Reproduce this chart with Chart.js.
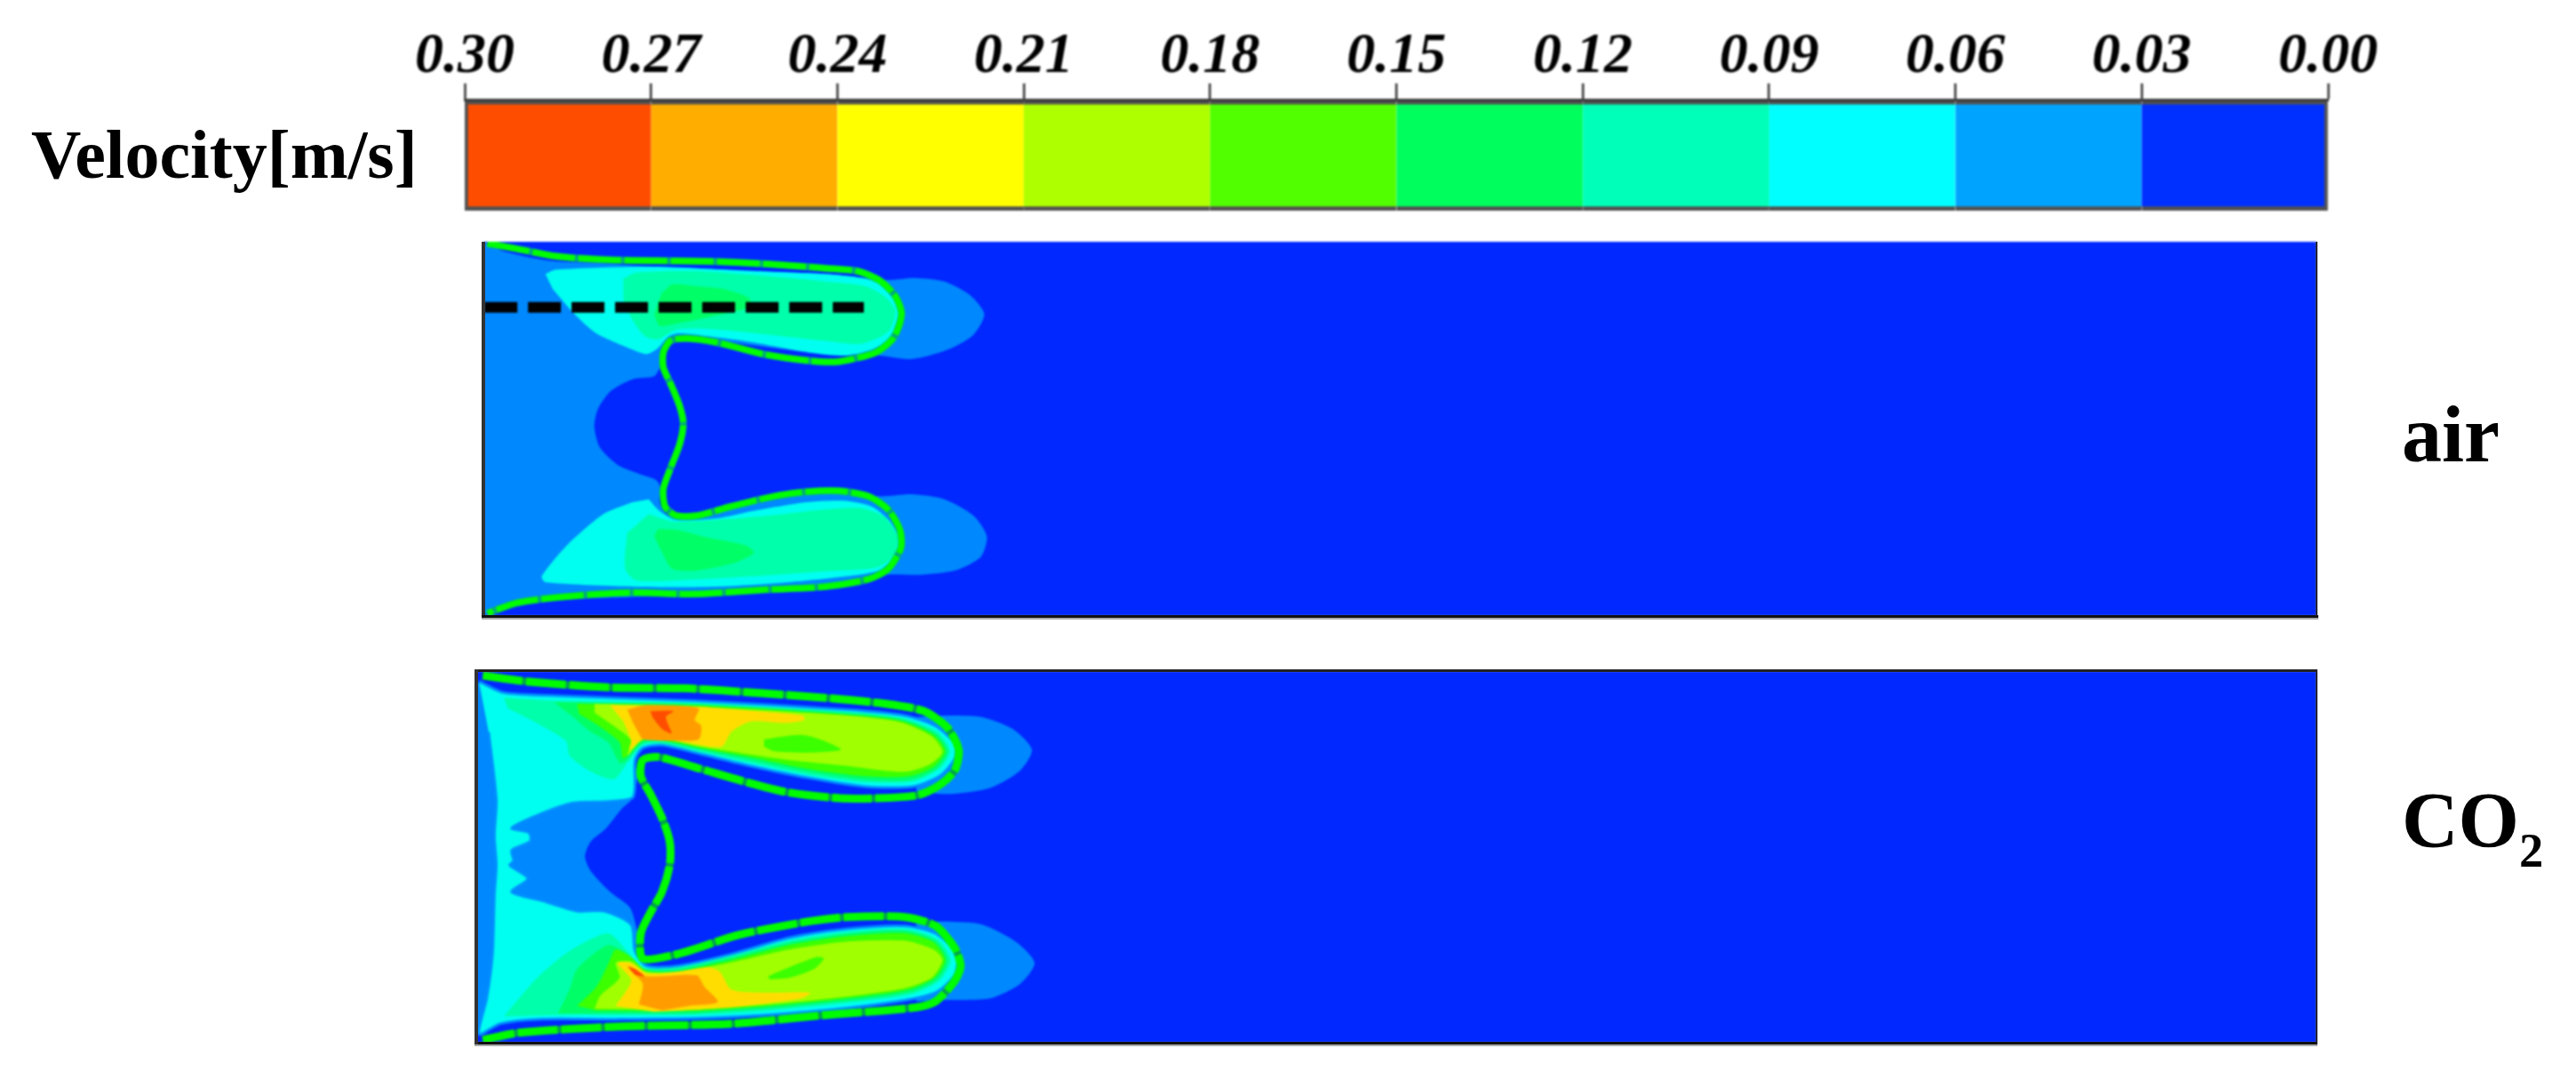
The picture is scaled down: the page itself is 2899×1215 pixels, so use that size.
<!DOCTYPE html>
<html>
<head>
<meta charset="utf-8">
<script src="https://cdn.jsdelivr.net/npm/chart.js@4"></script>
<style>
html, body { margin: 0; padding: 0; background: #fff; }
body { width: 2899px; height: 1215px; position: relative; overflow: hidden; }
canvas { position: absolute; }
#barChart { left: 400px; top: 0; filter: blur(0.8px); }
#airChart { left: 544px; top: 272px; background: #0028ff; filter: blur(1px); }
#co2Chart { left: 536px; top: 755px; background: #0028ff; filter: blur(1px); }
.edge { position: absolute; }
.lbl { position: absolute; font-family: "Liberation Serif", serif; font-weight: bold; color: #000; line-height: 1; white-space: nowrap; }
.lbl sub { font-size: 62%; vertical-align: -0.42em; line-height: 0; }
</style>
</head>
<body>
<canvas id="barChart" width="2350" height="260"></canvas>
<canvas id="airChart" width="2063" height="421"></canvas>
<canvas id="co2Chart" width="2071" height="418"></canvas>

<div class="edge" style="left:542px;top:272px;width:4px;height:423px;background:#333"></div>
<div class="edge" style="left:542px;top:692px;width:2067px;height:3px;background:#111"></div>
<div class="edge" style="left:542px;top:695px;width:2067px;height:2px;background:#aaa"></div>
<div class="edge" style="left:2606px;top:272px;width:2px;height:421px;background:#223"></div>
<div class="edge" style="left:534px;top:753px;width:2074px;height:3px;background:#222"></div>
<div class="edge" style="left:534px;top:1172px;width:2074px;height:3px;background:#111"></div>
<div class="edge" style="left:534px;top:1175px;width:2074px;height:2px;background:#aaa"></div>
<div class="edge" style="left:534px;top:753px;width:4px;height:422px;background:#333"></div>
<div class="edge" style="left:2606px;top:753px;width:2px;height:420px;background:#223"></div>

<div class="lbl" style="left:35px;top:135px;font-size:78px">Velocity[m/s]</div>
<div class="lbl" style="left:2703px;top:444px;font-size:90px">air</div>
<div class="lbl" style="left:2703px;top:879px;font-size:88px">CO<sub>2</sub></div>

<script>
// colour bar
var tickValues = [0.30, 0.27, 0.24, 0.21, 0.18, 0.15, 0.12, 0.09, 0.06, 0.03, 0.00];
var bandSizes = [0.03, 0.03, 0.03, 0.03, 0.03, 0.03, 0.03, 0.03, 0.03, 0.03];
var bandColors = ['#0030ff', '#00a4ff', '#00ffff', '#00ffb8', '#00ff5c', '#52ff00', '#aeff00', '#ffff00', '#ffae00', '#ff4d00'];

// contour colours, same order of levels as the bar
var cBlue = '#0088ff', cCyan = '#00fff0', cSpring = '#00ffaa', cGreen = '#00ff66',
    cLime = '#3cff00', cYellowGreen = '#a0ff00', cYellow = '#ffdd00', cOrange = '#ff9d00', cRed = '#ff4d00';

// air case, contour outlines in grid units
var airBase = [[59,66],[120,100],[240,130],[400,140],[530,150],[1000,175],[1170,195],[1250,188],[1330,200],[1400,245],[1440,310],[1410,380],[1340,430],[1240,462],[1150,450],[960,440],[700,400],[580,395],[545,450],[545,490],[530,520],[470,530],[410,570],[375,630],[365,690],[380,760],[430,820],[490,850],[535,870],[545,890],[545,950],[570,990],[660,990],[800,945],[950,905],[1050,905],[1150,925],[1240,918],[1330,935],[1410,990],[1447,1060],[1430,1130],[1360,1175],[1260,1190],[1170,1190],[1040,1230],[800,1250],[460,1265],[260,1275],[120,1300],[59,1329]];
var airTopCyan = [[230,175],[260,160],[530,150],[800,165],[1000,175],[1110,190],[1170,220],[1205,280],[1205,340],[1170,400],[1130,430],[1060,450],[960,440],[800,405],[680,385],[600,375],[570,385],[540,425],[510,445],[480,435],[370,375],[310,310],[250,225]];
var airTopSpring = [[445,190],[480,170],[640,165],[800,178],[1000,200],[1110,215],[1165,250],[1195,300],[1175,370],[1100,410],[1000,400],[850,380],[680,360],[590,362],[540,395],[505,385],[470,330],[445,260]];
var airTopGreen = [[550,240],[580,210],[640,215],[720,225],[790,255],[795,285],[680,320],[600,340],[545,350],[530,310]];
var airLowCyan = [[515,935],[545,975],[590,1005],[700,1000],[800,975],[950,945],[1050,940],[1130,960],[1180,1010],[1205,1070],[1190,1130],[1150,1175],[1060,1195],[900,1215],[700,1230],[480,1230],[230,1215],[220,1195],[290,1090],[390,985],[470,945]];
var airLowSpring = [[515,985],[580,1010],[700,1005],[850,990],[1000,970],[1100,965],[1165,995],[1200,1060],[1190,1125],[1145,1165],[1000,1178],[800,1195],[600,1208],[480,1208],[450,1170],[455,1050]];
var airLowGreen = [[540,1035],[600,1040],[680,1065],[780,1090],[805,1115],[750,1150],[650,1175],[580,1170],[550,1110],[530,1060]];
var airFront = [[70,72],[145,88],[260,115],[400,127],[540,130],[680,132],[830,140],[1000,155],[1090,165],[1150,195],[1195,250],[1212,310],[1190,390],[1140,440],[1040,470],[960,468],[830,445],[700,405],[620,392],[575,400],[555,440],[555,490],[575,545],[600,620],[610,680],[600,750],[575,830],[555,900],[560,960],[590,990],[650,990],[740,960],[860,925],[950,910],[1040,907],[1120,925],[1175,970],[1208,1040],[1210,1100],[1175,1170],[1120,1205],[1000,1230],[840,1240],[640,1255],[460,1250],[270,1265],[150,1285],[70,1320]];
var airProbe = [[62,287],[1108,287]];

// CO2 case
var co2BumpTop = [[1180,200],[1260,195],[1350,200],[1430,240],[1480,310],[1450,380],[1370,440],[1260,460],[1180,450]];
var co2BumpLow = [[1180,895],[1250,890],[1350,900],[1440,960],[1487,1030],[1450,1100],[1370,1150],[1250,1155],[1180,1160]];
var co2Base = [[38,80],[100,130],[450,370],[445,470],[415,510],[375,575],[335,620],[320,670],[335,720],[385,790],[440,850],[450,1000],[100,1230],[38,1275]];
var co2Cyan = [[45,80],[110,118],[250,128],[600,145],[1000,175],[1150,195],[1230,230],[1280,290],[1280,340],[1240,400],[1170,435],[1050,435],[900,405],[750,365],[620,325],[520,295],[470,305],[450,345],[445,470],[380,485],[290,490],[200,530],[130,575],[175,590],[178,620],[130,650],[135,685],[125,700],[172,745],[130,790],[210,820],[300,855],[370,855],[440,900],[450,990],[480,1040],[560,1040],[700,1000],[850,945],[1000,915],[1150,905],[1230,930],[1285,1000],[1280,1070],[1230,1130],[1130,1160],[900,1195],[650,1215],[400,1220],[200,1220],[100,1235],[45,1270],[65,1150],[80,1000],[85,800],[90,700],[85,600],[90,480],[70,250]];
var co2TopSpring = [[110,135],[240,145],[600,152],[1000,182],[1140,202],[1235,250],[1268,315],[1240,375],[1170,418],[1050,420],[900,395],[750,355],[620,318],[520,290],[470,295],[430,355],[395,410],[330,380],[280,330],[270,280],[180,210],[120,170]];
var co2TopGreen = [[240,150],[600,157],[1000,187],[1140,207],[1230,255],[1262,315],[1235,372],[1165,412],[1050,412],[900,385],[750,345],[620,310],[520,282],[470,288],[425,350],[410,355],[380,285],[330,245],[290,200]];
var co2TopLime = [[300,155],[600,160],[1000,192],[1140,212],[1225,260],[1255,315],[1225,368],[1160,400],[1050,400],[900,375],[750,335],[620,305],[520,278],[470,280],[420,340],[410,285],[350,225],[305,190]];
var co2TopYG = [[345,155],[600,165],[1000,195],[1140,218],[1220,265],[1248,318],[1215,360],[1150,385],[1000,365],[850,345],[720,320],[620,300],[520,272],[470,275],[430,330],[440,280],[400,235],[345,185]];
var co2TopYellow = [[385,160],[610,165],[760,180],[885,195],[890,210],[840,220],[750,215],[700,250],[675,300],[600,290],[520,272],[470,275],[435,310],[440,280],[420,215]];
var co2TopOrange = [[430,175],[480,160],[615,170],[605,210],[622,230],[615,275],[540,280],[470,275],[462,260],[445,220]];
var co2TopRed = [[490,180],[550,180],[530,200],[545,255],[520,240],[495,200]];
var co2TopIsland = [[785,275],[880,260],[930,275],[985,310],[900,320],[810,315],[785,300]];
var co2LowSpring = [[110,1210],[200,1075],[280,990],[380,930],[430,990],[470,1045],[560,1045],[700,1005],[850,955],[1000,925],[1150,915],[1235,950],[1270,1020],[1240,1090],[1170,1135],[1000,1165],[800,1190],[600,1205],[250,1205]];
var co2LowGreen = [[250,1200],[280,1120],[300,1050],[380,970],[430,1000],[470,1050],[560,1052],[700,1012],[850,962],[1000,932],[1150,922],[1230,955],[1262,1020],[1235,1085],[1165,1128],[1000,1158],[800,1183],[600,1200]];
var co2LowLime = [[300,1175],[350,1110],[380,1035],[400,985],[440,1010],[480,1055],[560,1058],[700,1020],[850,970],[1000,940],[1150,930],[1225,960],[1255,1020],[1228,1080],[1160,1120],[1000,1150],[800,1175],[600,1192],[350,1190]];
var co2LowYG = [[345,1185],[360,1140],[410,1080],[400,1030],[440,1025],[480,1060],[560,1060],[700,1028],[850,985],[1000,958],[1150,955],[1225,985],[1248,1020],[1220,1080],[1150,1115],[1000,1143],[800,1170],[600,1188]];
var co2LowYellow = [[400,1175],[440,1090],[405,1030],[440,1030],[480,1065],[560,1060],[640,1045],[670,1060],[700,1120],[780,1130],[905,1130],[880,1150],[700,1180],[500,1195]];
var co2LowOrange = [[460,1170],[470,1100],[435,1050],[480,1075],[610,1072],[630,1110],[665,1162],[590,1175],[520,1190]];
var co2LowRed = [[430,1040],[450,1050],[475,1075],[450,1070]];
var co2LowIsland = [[795,1075],[830,1055],[920,1010],[940,1015],[915,1050],[850,1080],[800,1085]];
var co2Front = [[55,60],[170,80],[380,100],[580,103],[760,118],[940,135],[1100,155],[1200,180],[1260,235],[1290,310],[1280,380],[1240,430],[1180,465],[1000,475],[850,455],[740,420],[620,375],[510,335],[470,345],[465,400],[490,460],[520,540],[540,620],[540,700],[520,790],[490,860],[465,930],[470,1015],[560,1000],[720,935],[900,890],[1000,875],[1150,875],[1230,905],[1280,980],[1295,1040],[1280,1090],[1230,1160],[1180,1180],[950,1205],[700,1235],[400,1245],[150,1265],[55,1290]];

Chart.defaults.animation = false;
Chart.defaults.font.family = '"Liberation Serif", serif';

// the colour bar
new Chart(document.getElementById('barChart').getContext('2d'), {
    type: 'bar',
    data: {
        labels: ['Velocity'],
        datasets: bandSizes.map(function (size, i) {
            return {
                data: [size],
                backgroundColor: bandColors[i],
                borderColor: 'rgba(50,50,50,0.85)',
                borderSkipped: false,
                borderWidth: { top: 5, bottom: 5, left: i == 9 ? 4 : 0, right: i == 0 ? 4 : 0 },
                barPercentage: 1,
                categoryPercentage: 1
            };
        })
    },
    options: {
        indexAxis: 'y',
        responsive: false,
        layout: { padding: { left: 123, right: 130, top: 35, bottom: 23 } },
        plugins: { legend: { display: false }, tooltip: { enabled: false } },
        scales: {
            x: {
                stacked: true,
                reverse: true,
                position: 'top',
                min: 0,
                max: 0.30,
                afterBuildTicks: function (scale) {
                    scale.ticks = tickValues.map(function (v) { return { value: v }; });
                },
                grid: { drawOnChartArea: false, tickLength: 19, tickWidth: 3, tickColor: '#555', color: '#555' },
                border: { color: '#444', width: 3 },
                ticks: {
                    autoSkip: false,
                    maxRotation: 0,
                    padding: -9,
                    color: '#000',
                    font: { size: 64, style: 'italic', weight: 'bold' },
                    callback: function (v) { return v.toFixed(2); }
                }
            },
            y: { stacked: true, display: false }
        }
    }
});

// one filled contour outline
function band(points, color, edge) {
    return {
        data: points,
        showLine: true,
        fill: 'shape',
        backgroundColor: color,
        borderColor: edge || color,
        borderWidth: edge ? 3 : 0,
        pointRadius: 0,
        tension: 0.25
    };
}

// an open stroked line
function stroke(points, color, width, dash, smooth) {
    return {
        data: points,
        showLine: true,
        fill: false,
        borderColor: color,
        borderWidth: width,
        borderDash: dash,
        pointRadius: 0,
        tension: smooth
    };
}

function contourChart(id, layers, xRange, yRange) {
    // layers are listed bottom first
    layers.forEach(function (d, i) { d.order = layers.length - i; });
    return new Chart(document.getElementById(id).getContext('2d'), {
        type: 'scatter',
        data: { datasets: layers },
        options: {
            responsive: false,
            layout: { padding: 0 },
            plugins: { legend: { display: false }, tooltip: { enabled: false } },
            scales: {
                x: { type: 'linear', display: false, min: xRange[0], max: xRange[1] },
                y: { type: 'linear', display: false, reverse: true, min: yRange[0], max: yRange[1] }
            }
        }
    });
}

contourChart('airChart', [
    band(airBase, cBlue),
    band(airTopCyan, cCyan),
    band(airTopSpring, cSpring),
    band(airTopGreen, cGreen),
    band(airLowCyan, cCyan),
    band(airLowSpring, cSpring),
    band(airLowGreen, cGreen),
    stroke(airFront, '#00a880', 8, [], 0.25),
    stroke(airFront, '#00ff00', 7, [48, 4], 0.25),
    stroke(airProbe, '#000', 12, [37, 12], 0)
], [59, 5113], [66, 1329]);

contourChart('co2Chart', [
    band(co2BumpTop, cBlue),
    band(co2BumpLow, cBlue),
    band(co2Base, cBlue),
    band(co2Cyan, cCyan, '#0090ff'),
    band(co2TopSpring, cSpring),
    band(co2TopGreen, cGreen),
    band(co2TopLime, cLime),
    band(co2TopYG, cYellowGreen),
    band(co2TopYellow, cYellow),
    band(co2TopOrange, cOrange),
    band(co2TopRed, cRed),
    band(co2TopIsland, cLime),
    band(co2LowSpring, cSpring),
    band(co2LowGreen, cGreen),
    band(co2LowLime, cLime),
    band(co2LowYG, cYellowGreen),
    band(co2LowYellow, cYellow),
    band(co2LowOrange, cOrange),
    band(co2LowRed, cRed),
    band(co2LowIsland, cLime),
    stroke(co2Front, '#00a050', 8, [], 0.25),
    stroke(co2Front, '#00fc00', 9, [45, 4], 0.25)
], [38, 4814], [45, 1299]);
</script>
</body>
</html>
